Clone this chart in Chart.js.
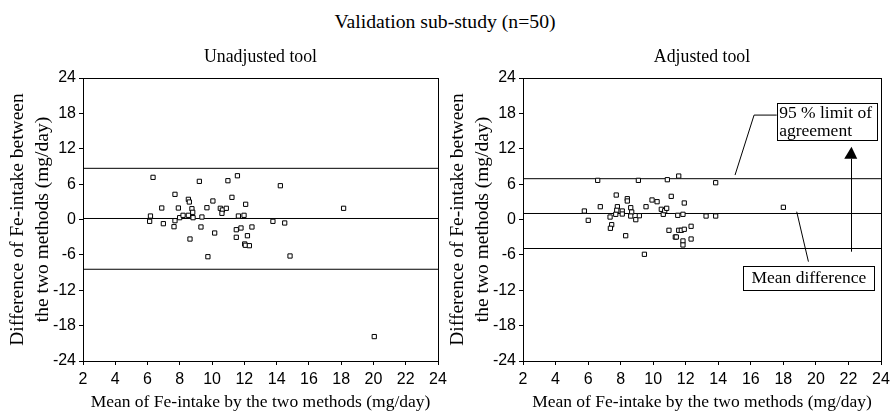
<!DOCTYPE html>
<html>
<head>
<meta charset="utf-8">
<script src="https://cdn.jsdelivr.net/npm/chart.js@4.4.1/dist/chart.umd.min.js"></script>
<style>
  html, body { margin: 0; padding: 0; background: #fff; }
  #wrap { position: relative; width: 890px; height: 414px; overflow: hidden; }
  #mainTitle {
    position: absolute; left: 0; top: 10px; width: 890px; text-align: center;
    font: 19.7px 'Liberation Serif', 'Times New Roman', serif; color: #000;
  }
  .pane { position: absolute; top: 0; height: 414px; }
</style>
</head>
<body>
<div id="wrap">
  <div id="mainTitle">Validation sub-study (n=50)</div>
  <div class="pane" style="left:0px;width:448px"><canvas id="leftPlot" width="448" height="414"></canvas></div>
  <div class="pane" style="left:440px;width:450px"><canvas id="rightPlot" width="450" height="414"></canvas></div>
</div>
<script>
'use strict';

const SERIF = "'Liberation Serif', 'Times New Roman', serif";
const SANS = "'Liberation Sans', Arial, sans-serif";

// Axis ticks
const X_TICKS = [2, 4, 6, 8, 10, 12, 14, 16, 18, 20, 22, 24];
const Y_TICKS = [-24, -18, -12, -6, 0, 6, 12, 18, 24];

// Unadjusted tool: mean of the two methods vs difference
const leftMean = [6.34, 6.18, 6.13, 6.88, 6.98, 7.70, 7.91, 7.64, 7.70, 7.99,
    8.20, 8.53, 8.59, 8.53, 8.75, 8.80, 8.82, 8.63, 9.21, 9.37,
    9.31, 9.68, 9.74, 10.05, 10.16, 10.51, 10.64, 10.61, 10.88, 10.98,
    11.23, 11.57, 11.63, 11.50, 11.50, 11.79, 11.98, 12.08, 12.02, 12.06,
    12.19, 12.31, 12.47, 14.23, 13.77, 14.50, 14.83, 18.15, 20.05];
const leftDiff = [7.15, 0.59, -0.31, 1.95, -0.71, 4.27, 1.95, -1.22, -0.20, 0.31,
    0.71, 3.42, 2.97, 0.71, 1.83, 1.22, 0.31, -3.31, 6.47, 0.42,
    -1.27, 2.00, -6.31, 3.14, -2.29, 1.90, 1.61, 1.05, 1.90, 6.58,
    3.76, 7.42, 0.59, -1.73, -3.02, -1.44, 0.71, 2.58, -4.15, -4.37,
    -2.75, -4.44, -1.27, 5.73, -0.31, -0.59, -6.19, 1.90, -19.86];
// upper limit, mean difference, lower limit
const leftLimits = [8.68, 0.17, -8.44];

// Adjusted tool
const rightMean = [5.77, 6.01, 6.59, 6.75, 7.35, 7.45, 7.37, 7.73, 7.80, 7.76,
    7.70, 8.10, 8.10, 8.41, 8.41, 8.31, 8.62, 8.68, 8.62, 8.93,
    9.15, 9.09, 9.56, 9.46, 9.93, 10.24, 10.50, 10.62, 10.71, 10.83,
    10.87, 10.97, 11.11, 11.36, 11.42, 11.51, 11.57, 11.57, 11.73, 11.83,
    11.91, 11.91, 11.83, 11.83, 12.33, 12.33, 13.84, 13.25, 13.84, 18.00];
const rightDiff = [1.44, -0.14, 6.64, 2.17, 0.42, -0.88, -1.49, 4.15, 2.17, 1.56,
    0.88, 1.44, 0.93, 3.53, 3.14, -2.75, 2.00, 1.27, 0.59, -0.03,
    0.64, 6.64, 2.17, -5.90, 3.31, 3.02, 1.73, 0.88, 1.49, 1.90,
    6.75, -1.83, 3.93, -2.97, -2.97, 0.71, 7.37, -1.83, -1.83, 0.88,
    2.80, -1.66, -3.64, -4.32, -1.15, -3.31, 6.24, 0.59, 0.59, 2.07];
const rightLimits = [6.92, 1.02, -4.92];

const X_TITLE = 'Mean of Fe-intake by the two methods (mg/day)';
const Y_TITLE = ['Difference of Fe-intake between', 'the two methods (mg/day)'];


function points(xs, ys) {
    return xs.map((x, i) => ({ x: x, y: ys[i] }));
}


function limitLines(limits) {
    return limits.map(v => ({
        type: 'line',
        data: [{ x: X_TICKS[0], y: v }, { x: X_TICKS[X_TICKS.length - 1], y: v }],
        showLine: true,
        borderColor: '#000',
        borderWidth: 1,
        pointRadius: 0,
        order: 2
    }));
}


// full box round the plot area + panel subtitle
const framePlugin = {
    id: 'frame',
    afterDraw(chart, args, opts) {
        const { ctx, chartArea: a } = chart;
        ctx.save();
        ctx.strokeStyle = '#000';
        ctx.lineWidth = 1;
        ctx.strokeRect(Math.round(a.left) + 0.5, Math.round(a.top) + 0.5,
            Math.round(a.right - a.left), Math.round(a.bottom - a.top));
        ctx.fillStyle = '#000';
        ctx.font = '17.8px ' + SERIF;
        ctx.textAlign = 'center';
        ctx.textBaseline = 'middle';
        ctx.fillText(opts.text, (a.left + a.right) / 2, 57);
        ctx.restore();
    }
};


// callout boxes, leader lines and arrow (positions in data units)
const NOTES = {
    limitBox: { x1: 17.59, x2: 23.74, y1: 19.8, y2: 13.47 },
    limitText: { x: 17.74, lines: [[18.05, '95 % limit of'], [15.0, 'agreement']] },
    limitLeader: [[17.59, 17.71], [16.2, 17.71], [15.03, 7.54]],
    arrow: { x: 22.14, from: -5.46, to: 12.34, base: 10.3, half: 0.4 },
    meanBox: { x1: 15.54, x2: 23.59, y1: -7.88, y2: -11.95 },
    meanText: 'Mean difference',
    meanLeader: [[18.82, 1.32], [19.54, -7.15]]
};

const notesPlugin = {
    id: 'notes',
    afterDraw(chart) {
        const { ctx, scales: { x, y } } = chart;
        const px = v => x.getPixelForValue(v);
        const py = v => y.getPixelForValue(v);
        ctx.save();
        ctx.strokeStyle = '#000';
        ctx.fillStyle = '#000';
        ctx.lineWidth = 1;

        const poly = pts => {
            ctx.beginPath();
            pts.forEach((p, i) => i ? ctx.lineTo(px(p[0]), py(p[1])) : ctx.moveTo(px(p[0]), py(p[1])));
            ctx.stroke();
        };
        const box = b => {
            const l = Math.round(px(b.x1)) + 0.5, t = Math.round(py(b.y1)) + 0.5;
            const w = Math.round(px(b.x2) - px(b.x1)), h = Math.round(py(b.y2) - py(b.y1));
            ctx.fillStyle = '#fff';
            ctx.fillRect(l, t, w, h);
            ctx.strokeRect(l, t, w, h);
            ctx.fillStyle = '#000';
        };

        poly(NOTES.limitLeader);
        poly(NOTES.meanLeader);
        box(NOTES.limitBox);
        box(NOTES.meanBox);

        ctx.font = '17.5px ' + SERIF;
        ctx.textBaseline = 'middle';
        ctx.textAlign = 'left';
        for (const [ly, txt] of NOTES.limitText.lines) {
            ctx.fillText(txt, px(NOTES.limitText.x), py(ly));
        }
        ctx.textAlign = 'center';
        const mb = NOTES.meanBox;
        ctx.fillText(NOTES.meanText, (px(mb.x1) + px(mb.x2)) / 2, (py(mb.y1) + py(mb.y2)) / 2);

        // arrow
        const ar = NOTES.arrow;
        const ax = Math.round(px(ar.x)) + 0.5;
        ctx.beginPath();
        ctx.moveTo(ax, py(ar.from));
        ctx.lineTo(ax, py(ar.base));
        ctx.stroke();
        ctx.beginPath();
        ctx.moveTo(ax, py(ar.to));
        ctx.lineTo(px(ar.x - ar.half), py(ar.base));
        ctx.lineTo(px(ar.x + ar.half), py(ar.base));
        ctx.closePath();
        ctx.fill();
        ctx.restore();
    }
};


function buildChart(canvasId, xs, ys, limits, subtitle, padRight, extraPlugins) {
    const axisCommon = {
        type: 'linear',
        grid: { drawOnChartArea: false, drawTicks: true, tickLength: 4, tickColor: '#000', color: '#000' },
        border: { display: true, color: '#000', width: 1 }
    };

    const config = {
        type: 'scatter',
        data: {
            datasets: [{
                data: points(xs, ys),
                pointStyle: 'rect',
                pointRadius: 3,
                pointBackgroundColor: '#fff',
                pointBorderColor: '#000',
                pointBorderWidth: 1,
                order: 0
            }].concat(limitLines(limits))
        },
        options: {
            responsive: false,
            animation: false,
            events: [],
            layout: { padding: { left: 0, top: 78, right: padRight, bottom: 0 } },
            plugins: {
                legend: { display: false },
                tooltip: { enabled: false },
                frame: { text: subtitle }
            },
            scales: {
                x: Object.assign({}, axisCommon, {
                    min: X_TICKS[0],
                    max: X_TICKS[X_TICKS.length - 1],
                    afterBuildTicks: s => { s.ticks = X_TICKS.map(v => ({ value: v })); },
                    ticks: { color: '#000', font: { family: SANS, size: 16 }, padding: 5, maxRotation: 0, autoSkip: false },
                    title: {
                        display: true, text: X_TITLE, color: '#000',
                        font: { family: SERIF, size: 17.5, lineHeight: 1.2 },
                        padding: { top: 0, bottom: 1 }
                    },
                    afterFit: s => { s.height = 53; s.paddingLeft = 0; s.paddingRight = 0; }
                }),
                y: Object.assign({}, axisCommon, {
                    min: Y_TICKS[0],
                    max: Y_TICKS[Y_TICKS.length - 1],
                    afterBuildTicks: s => { s.ticks = Y_TICKS.map(v => ({ value: v })); },
                    ticks: { color: '#000', font: { family: SANS, size: 16 }, padding: 3 },
                    title: {
                        display: true, text: Y_TITLE, color: '#000',
                        font: { family: SERIF, size: 19.5, lineHeight: 1.25 },
                        padding: { top: 6, bottom: 0 }
                    },
                    afterFit: s => { s.width = 83; s.paddingTop = 0; s.paddingBottom = 0; }
                })
            }
        },
        plugins: [framePlugin].concat(extraPlugins)
    };

    return new Chart(document.getElementById(canvasId), config);
}


buildChart('leftPlot', leftMean, leftDiff, leftLimits, 'Unadjusted tool', 10, []);
buildChart('rightPlot', rightMean, rightDiff, rightLimits, 'Adjusted tool', 9, [notesPlugin]);
</script>
</body>
</html>
